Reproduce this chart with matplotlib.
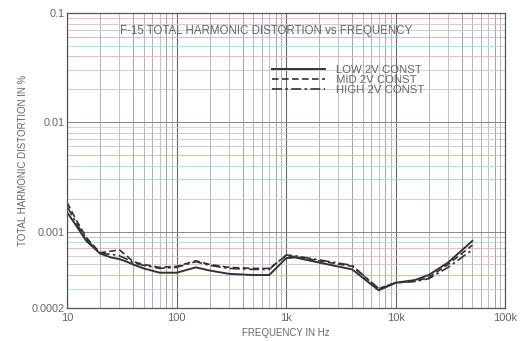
import matplotlib.pyplot as plt
import numpy as np

# frequencies in Hz
freq = [10, 12, 15, 20, 25, 30, 35, 40, 50, 70, 100, 150, 200, 300, 500, 700,
        1000, 1200, 2000, 4000, 7000, 10000, 15000, 20000, 30000, 50000]

# THD in %
thd_low = [0.00150, 0.00115, 0.00082, 0.00063, 0.00058, 0.00056, 0.00053, 0.00050,
           0.00046, 0.00042, 0.00042, 0.00047, 0.00044, 0.00041, 0.00040, 0.00040,
           0.00057, 0.00058, 0.00052, 0.00045, 0.00029, 0.00034, 0.00036, 0.00040,
           0.00052, 0.00082]
thd_mid = [0.00185, 0.00130, 0.00088, 0.00064, 0.00066, 0.00068, 0.00060, 0.00053,
           0.00050, 0.00047, 0.00048, 0.00054, 0.00050, 0.00047, 0.00046, 0.00046,
           0.00060, 0.00059, 0.00054, 0.00048, 0.00030, 0.00034, 0.00035, 0.00038,
           0.00050, 0.00075]
thd_high = [0.00170, 0.00122, 0.00085, 0.00063, 0.00062, 0.00060, 0.00056, 0.00052,
            0.00049, 0.00046, 0.00047, 0.00053, 0.00049, 0.00046, 0.00045, 0.00045,
            0.00061, 0.00060, 0.00055, 0.00049, 0.00030, 0.00034, 0.00035, 0.00037,
            0.00047, 0.00068]

xticks = [10, 100, 1000, 10000, 100000]
xticklabels = ['10', '100', '1k', '10k', '100k']
yticks = [0.0002, 0.001, 0.01, 0.1]
yticklabels = ['0.0002', '0.001', '0.01', '0.1']

plt.rcParams['font.family'] = ['Liberation Sans', 'DejaVu Sans']
txt = '#666666'

fig = plt.figure(figsize=(5.28, 3.41), dpi=100)
ax = fig.add_axes([0.127, 0.097, 0.83, 0.865])
ax.set_xscale('log')
ax.set_yscale('log')
ax.set_xlim(10, 100000)
ax.set_ylim(0.0002, 0.1)

# graph paper grid
vcols = ['#8a8a8a', '#a0a0a0', '#9a9ab0', '#b0b0b0']
for d in [10, 100, 1000, 10000]:
    for i in range(1, 10):
        ax.axvline(d * i, color=vcols[i % 4] if i > 1 else '#666666',
                   lw=0.8 if i == 1 else 0.55, zorder=0)
hcols = ['#eab0b8', '#a8dcdc', '#b4b4e6', '#c4c4c4', '#dcbcd0']
k = 0
for d in [0.0001, 0.001, 0.01]:
    for i in range(1, 10):
        y = d * i
        if y < 0.0002 or y > 0.1:
            continue
        ax.axhline(y, color='#888888' if i == 1 else hcols[k % 5],
                   lw=0.7 if i == 1 else 0.6, zorder=0)
        k += 1

lc = '#333333'
ax.plot(freq, thd_low, color=lc, lw=1.4, ls='-', label='LOW 2V CONST')
ax.plot(freq, thd_mid, color=lc, lw=1.2, ls=(0, (4, 2)), label='MID 2V CONST')
ax.plot(freq, thd_high, color=lc, lw=1.2, ls=(0, (6, 2, 1.5, 2)), label='HIGH 2V CONST')

ax.set_xticks(xticks)
ax.set_xticklabels(xticklabels)
ax.set_yticks(yticks)
ax.set_yticklabels(yticklabels)
ax.minorticks_off()
ax.tick_params(axis='x', length=0, labelsize=8, colors=txt, pad=4)
ax.tick_params(axis='y', length=0, labelsize=7.8, colors=txt, pad=1.5)
for s in ax.spines.values():
    s.set_color('#555555')
    s.set_linewidth(0.9)

ax.text(0.12, 0.94, 'F-15 TOTAL HARMONIC DISTORTION vs FREQUENCY', transform=ax.transAxes,
        fontsize=8.3, color=txt, va='center')
ax.set_xlabel('FREQUENCY IN Hz', fontsize=7, color=txt, labelpad=3)
ax.set_ylabel('TOTAL HARMONIC DISTORTION IN %', fontsize=7, color=txt, labelpad=3)

leg = ax.legend(loc='upper left', bbox_to_anchor=(0.455, 0.842), frameon=False,
                fontsize=8.2, handlelength=4.6, handletextpad=1.0,
                labelspacing=0.0, borderpad=0)
for t in leg.get_texts():
    t.set_color(txt)

fig.savefig('out.png', dpi=100, facecolor='white')
